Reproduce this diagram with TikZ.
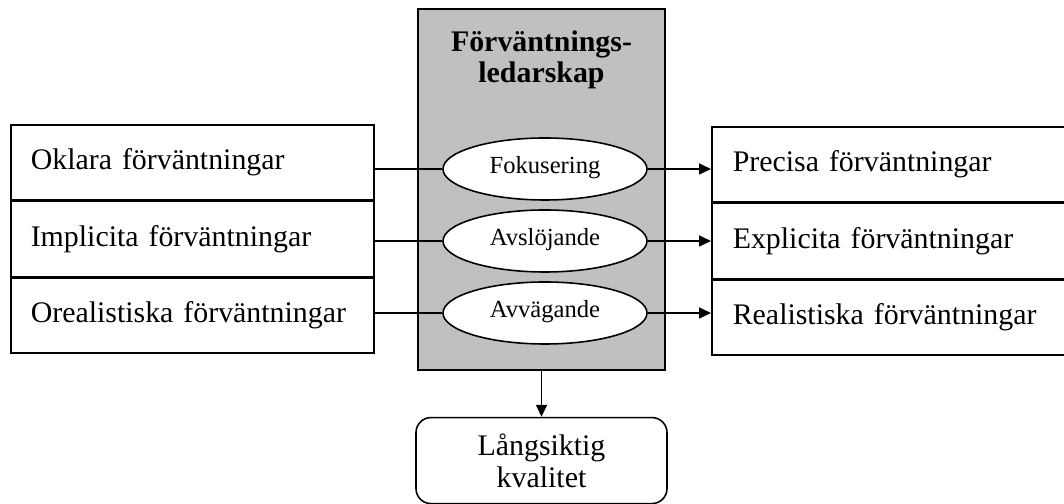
\documentclass[tikz,border=0pt]{standalone}
\usepackage{fontspec}
\setmainfont{Liberation Serif}
\usepackage{tikz}
\usetikzlibrary{arrows.meta,shapes,positioning}
\usepackage{xcolor}
\definecolor{ledgray}{RGB}{192,192,192}
\tikzstyle{sidebox} = [rectangle, draw, line width=0.9pt, minimum height=1.5cm, align=left, font=\fontsize{17}{17.5}\selectfont]
\tikzstyle{leader} = [rectangle, draw, line width=0.9pt, fill=ledgray, minimum width=4.94cm, minimum height=7.22cm]
\tikzstyle{step oval} = [ellipse, draw, line width=0.9pt, fill=white, minimum width=4.08cm, minimum height=1.24cm, inner sep=0pt, text height=0.72em, text depth=0.22em, font=\fontsize{14}{16}\selectfont]
\tikzstyle{result} = [rectangle, rounded corners=0.3cm, draw, line width=0.9pt, minimum width=5.02cm, minimum height=1.72cm, align=center, font=\fontsize{17}{18}\selectfont]
\tikzstyle{arrow} = [line width=0.9pt, -{Triangle[length=0.24cm,width=0.22cm]}]
\tikzstyle{link} = [line width=0.9pt]

\begin{document}
\begin{tikzpicture}[node distance=0cm]
\useasboundingbox (0,0) rectangle (21.28,10.08);
% Central box
\node[leader] (lead) at (10.83,6.29) {};
\node[below=0.32cm of lead.north, align=center, font=\fontsize{17}{17.8}\selectfont\bfseries] (title) {Förväntnings-\\ledarskap};

\node[step oval] (fok) at (10.9,6.70) {Fokusering};
\node[step oval] (avs) at (10.9,5.26) {Avslöjande};
\node[step oval] (avv) at (10.9,3.82) {Avvägande};

% Left column
\node[sidebox, text width=6.46cm, inner xsep=0.4cm, anchor=north west] (oklara) at (0.2,7.6) {Oklara förväntningar};
\node[sidebox, text width=6.46cm, inner xsep=0.4cm, below=of oklara] (implicita) {Implicita förväntningar};
\node[sidebox, text width=6.46cm, inner xsep=0.4cm, below=of implicita] (orealist) {Orealistiska förväntningar};

% Right column
\node[sidebox, text width=6.26cm, inner xsep=0.42cm, anchor=north west] (precisa) at (14.22,7.56) {Precisa förväntningar};
\node[sidebox, text width=6.26cm, inner xsep=0.42cm, below=of precisa] (explicita) {Explicita förväntningar};
\node[sidebox, text width=6.26cm, inner xsep=0.42cm, below=of explicita] (realist) {Realistiska förväntningar};

% Result
\node[result, below=0.92cm of lead] (kvalitet) {Långsiktig\\kvalitet};

\draw[link] (fok.west) -- (fok.west -| oklara.east);
\draw[link] (avs.west) -- (avs.west -| implicita.east);
\draw[link] (avv.west) -- (avv.west -| orealist.east);

\draw[arrow] (fok.east) -- (fok.east -| precisa.west);
\draw[arrow] (avs.east) -- (avs.east -| explicita.west);
\draw[arrow] (avv.east) -- (avv.east -| realist.west);

\draw[arrow] (lead.south) -- (kvalitet.north);
\end{tikzpicture}
\end{document}
